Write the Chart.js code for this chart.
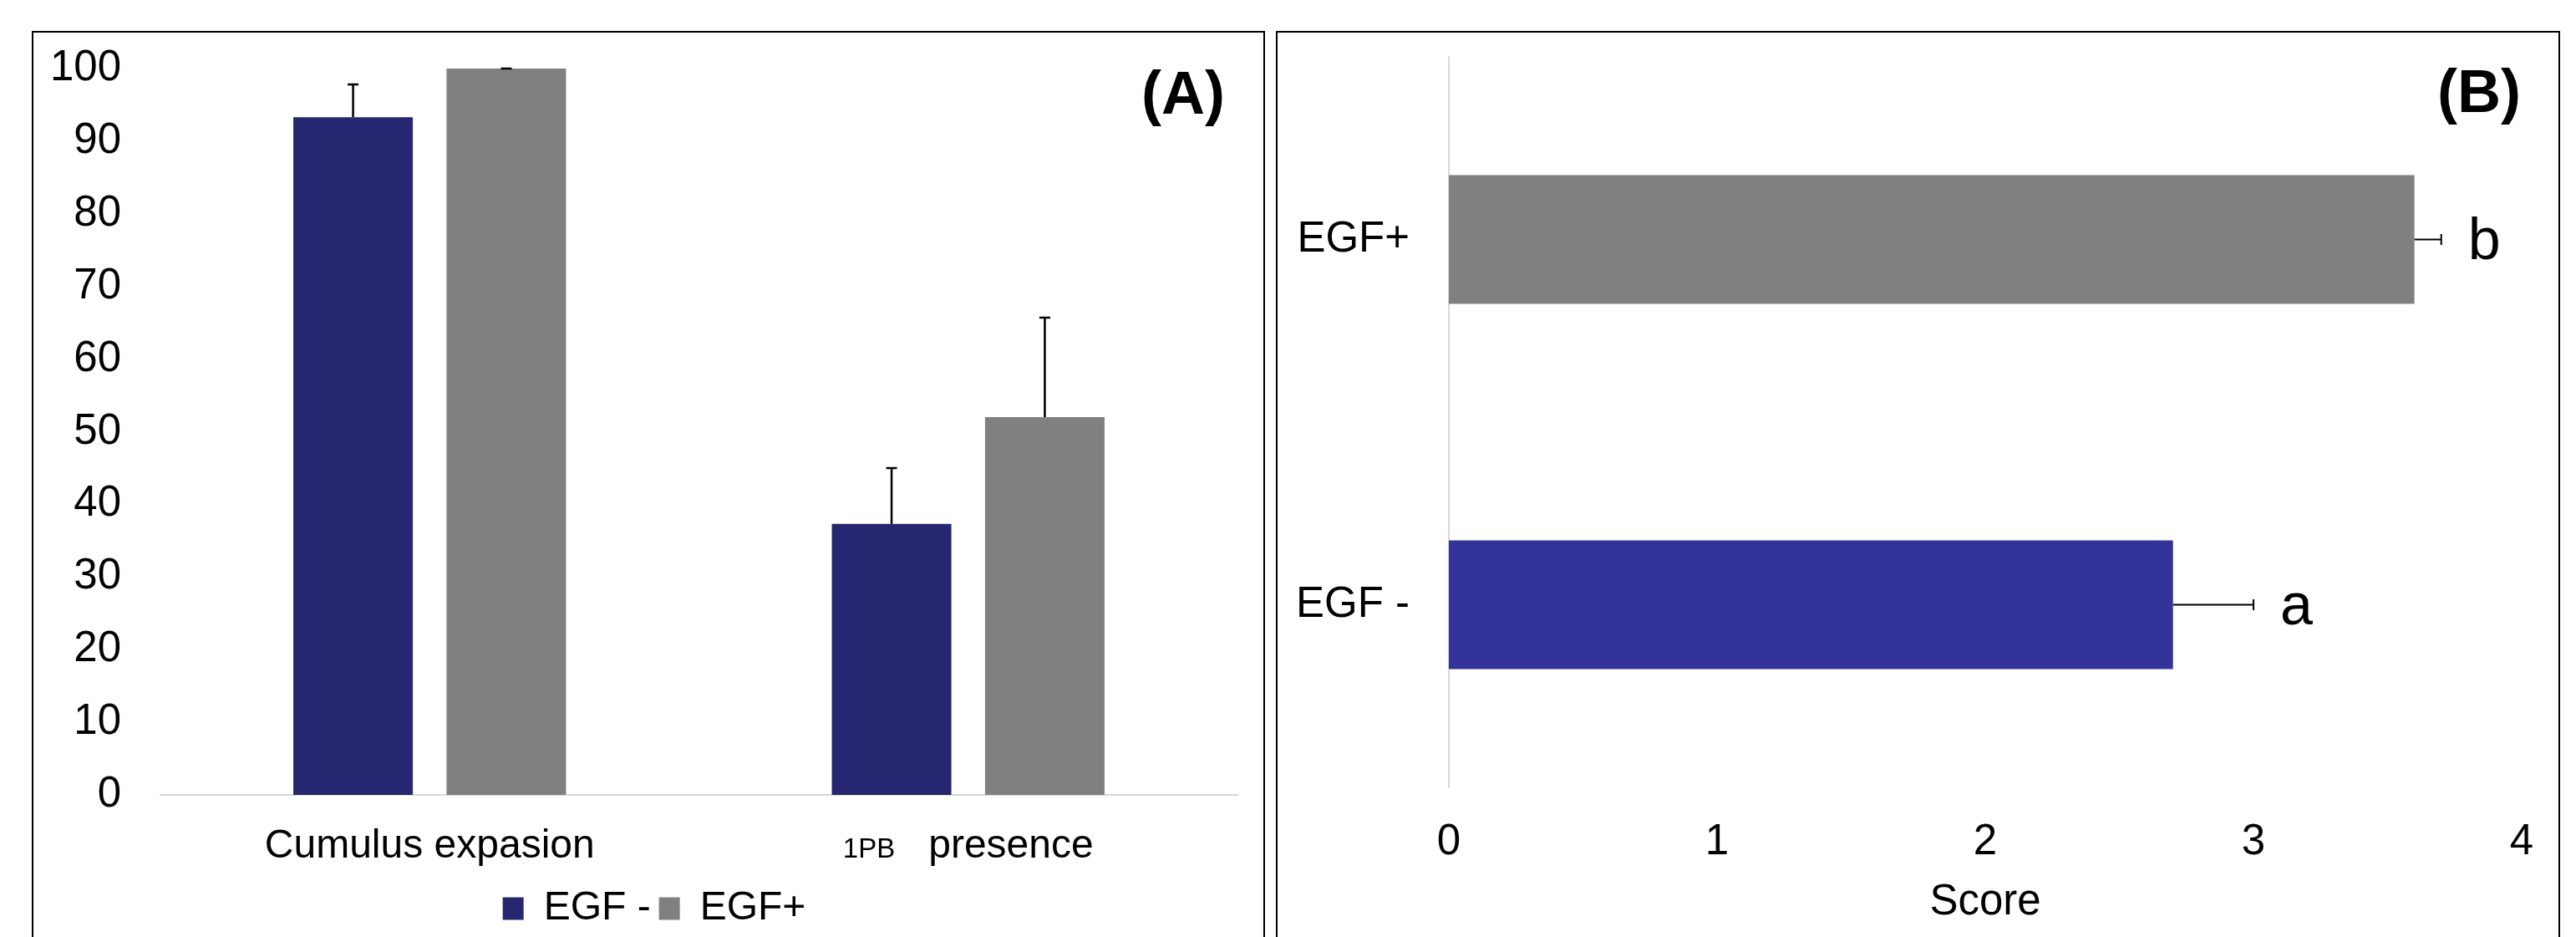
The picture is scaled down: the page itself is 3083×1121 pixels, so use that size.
<!DOCTYPE html>
<html>
<head>
<meta charset="utf-8">
<script src="https://cdn.jsdelivr.net/npm/chart.js@4.4.1/dist/chart.umd.min.js"></script>
<style>
html, body { margin: 0; padding: 0; background: #fff; overflow: hidden; }
body { width: 3083px; height: 1121px; position: relative; }
.frame { position: absolute; border: 2px solid #000; box-sizing: border-box; }
canvas { position: absolute; top: 0; }
</style>
</head>
<body>
<div class="frame" style="left:38px; top:37px; width:1476px; height:1200px;"></div>
<div class="frame" style="left:1527px; top:37px; width:1537px; height:1200px;"></div>
<canvas id="chartA" width="1566" height="1121" style="left:0;"></canvas>
<canvas id="chartB" width="1563" height="1121" style="left:1520px;"></canvas>
<script>
// panel A data
var categoriesA = ["Cumulus expasion", "presence"];
var prefixA = ["", "1PB"];
var egfMinusA = [93.3, 37.3];
var egfMinusErrA = [4.5, 7.7];
var egfPlusA = [100, 52.0];
var egfPlusErrA = [0, 13.7];

// panel B data
var groupsB = ["EGF+", "EGF -"];
var scoresB = [3.6, 2.7];
var scoreErrB = [0.1, 0.3];
var lettersB = ["b", "a"];

var navy = "#262671";
var blue = "#333399";
var grey = "#808080";
var axisGrey = "#d9d9d9";
var FONT = "'Liberation Sans', Arial, sans-serif";

Chart.defaults.font.family = FONT;
Chart.defaults.color = "#000";

var errorBarsA = {
    id: "errorBarsA",
    afterDatasetsDraw: function(chart) {
        var ctx = chart.ctx;
        var y = chart.scales.y;
        var errs = [egfMinusErrA, egfPlusErrA];
        ctx.save();
        ctx.strokeStyle = "#000";
        ctx.lineWidth = 2.5;
        chart.data.datasets.forEach(function(ds, i) {
            chart.getDatasetMeta(i).data.forEach(function(bar, j) {
                var top = y.getPixelForValue(ds.data[j] + errs[i][j]);
                ctx.beginPath();
                ctx.moveTo(bar.x, bar.y);
                ctx.lineTo(bar.x, top);
                ctx.moveTo(bar.x - 6.5, top);
                ctx.lineTo(bar.x + 6.5, top);
                ctx.stroke();
            });
        });
        ctx.restore();
    }
};

var labelsA = {
    id: "labelsA",
    afterDraw: function(chart) {
        var ctx = chart.ctx;
        var x = chart.scales.x;
        var base = chart.chartArea.bottom + 75;
        ctx.save();
        ctx.fillStyle = "#000";
        ctx.textBaseline = "alphabetic";
        categoriesA.forEach(function(cat, j) {
            var cx = x.getPixelForValue(j);
            ctx.font = "48px " + FONT;
            var wMain = ctx.measureText(cat).width;
            var wPre = 0, gap = 0;
            if (prefixA[j]) {
                ctx.font = "33px " + FONT;
                wPre = ctx.measureText(prefixA[j]).width;
                gap = 40;
            }
            var left = cx - (wPre + gap + wMain) / 2;
            ctx.textAlign = "left";
            if (prefixA[j]) {
                ctx.font = "33px " + FONT;
                ctx.fillText(prefixA[j], left, base);
            }
            ctx.font = "48px " + FONT;
            ctx.fillText(cat, left + wPre + gap, base);
        });
        ctx.font = "bold 72px " + FONT;
        ctx.textAlign = "right";
        ctx.textBaseline = "middle";
        ctx.fillText("(A)", chart.chartArea.right - 15, 116);
        ctx.restore();
    }
};

new Chart(document.getElementById("chartA").getContext("2d"), {
    type: "bar",
    data: {
        labels: categoriesA,
        datasets: [
            { label: "EGF -", data: egfMinusA, backgroundColor: navy },
            { label: "EGF+", data: egfPlusA, backgroundColor: grey }
        ]
    },
    options: {
        responsive: false,
        animation: false,
        devicePixelRatio: 1,
        categoryPercentage: 0.569,
        barPercentage: 0.78,
        layout: { padding: { left: 0, right: 0, top: 82, bottom: 0 } },
        plugins: {
            tooltip: { enabled: false },
            legend: {
                position: "bottom",
                labels: { font: { size: 48 }, color: "#000", boxWidth: 25, boxHeight: 27, padding: 10 }
            }
        },
        scales: {
            x: {
                grid: { display: false, drawTicks: false },
                border: { display: true, color: axisGrey, width: 2 },
                ticks: { display: false },
                afterFit: function(scale) { scale.height = 102; }
            },
            y: {
                min: 0,
                max: 100,
                grid: { display: false, drawTicks: false },
                border: { display: false },
                ticks: { stepSize: 10, font: { size: 51 }, color: "#000", padding: 47 },
                afterFit: function(scale) { scale.width = 192; }
            },
            // empty right-hand spacer so the legend centres like the original
            y2: {
                position: "right",
                grid: { display: false, drawTicks: false },
                border: { display: false },
                ticks: { display: false },
                afterFit: function(scale) { scale.width = 85; }
            }
        }
    },
    plugins: [errorBarsA, labelsA]
});

var errorBarsB = {
    id: "errorBarsB",
    afterDatasetsDraw: function(chart) {
        var ctx = chart.ctx;
        var x = chart.scales.x;
        ctx.save();
        ctx.strokeStyle = "#000";
        ctx.lineWidth = 2;
        chart.getDatasetMeta(0).data.forEach(function(bar, j) {
            var end = x.getPixelForValue(scoresB[j] + scoreErrB[j]);
            ctx.beginPath();
            ctx.moveTo(bar.x, bar.y);
            ctx.lineTo(end, bar.y);
            ctx.moveTo(end, bar.y - 6.5);
            ctx.lineTo(end, bar.y + 6.5);
            ctx.stroke();
            ctx.fillStyle = "#000";
            ctx.font = "70px " + FONT;
            ctx.textAlign = "left";
            ctx.textBaseline = "alphabetic";
            ctx.fillText(lettersB[j], end + 32, bar.y + 23);
        });
        ctx.font = "bold 72px " + FONT;
        ctx.textAlign = "right";
        ctx.textBaseline = "middle";
        ctx.fillText("(B)", chart.chartArea.right - 1, 114);
        ctx.restore();
    }
};

new Chart(document.getElementById("chartB").getContext("2d"), {
    type: "bar",
    data: {
        labels: groupsB,
        datasets: [
            { label: "Score", data: scoresB, backgroundColor: [grey, blue] }
        ]
    },
    options: {
        indexAxis: "y",
        responsive: false,
        animation: false,
        devicePixelRatio: 1,
        categoryPercentage: 0.8,
        barPercentage: 0.44,
        layout: { padding: { left: 0, right: 65, top: 68, bottom: 0 } },
        plugins: {
            tooltip: { enabled: false },
            legend: { display: false }
        },
        scales: {
            x: {
                min: 0,
                max: 4,
                grid: { display: false, drawTicks: false },
                border: { display: false },
                ticks: { stepSize: 1, font: { size: 51 }, color: "#000", padding: 35 },
                title: { display: true, text: "Score", font: { size: 51 }, color: "#000", padding: { top: 0, bottom: 10 } },
                afterFit: function(scale) { scale.height = 179; }
            },
            y: {
                grid: { display: false, drawTicks: false },
                border: { display: true, color: axisGrey, width: 2 },
                ticks: { font: { size: 51 }, color: "#000", padding: 47 },
                afterFit: function(scale) {
                    scale.width = 214;
                    scale.paddingTop = 0;
                    scale.paddingBottom = 0;
                }
            }
        }
    },
    plugins: [errorBarsB]
});
</script>
</body>
</html>
